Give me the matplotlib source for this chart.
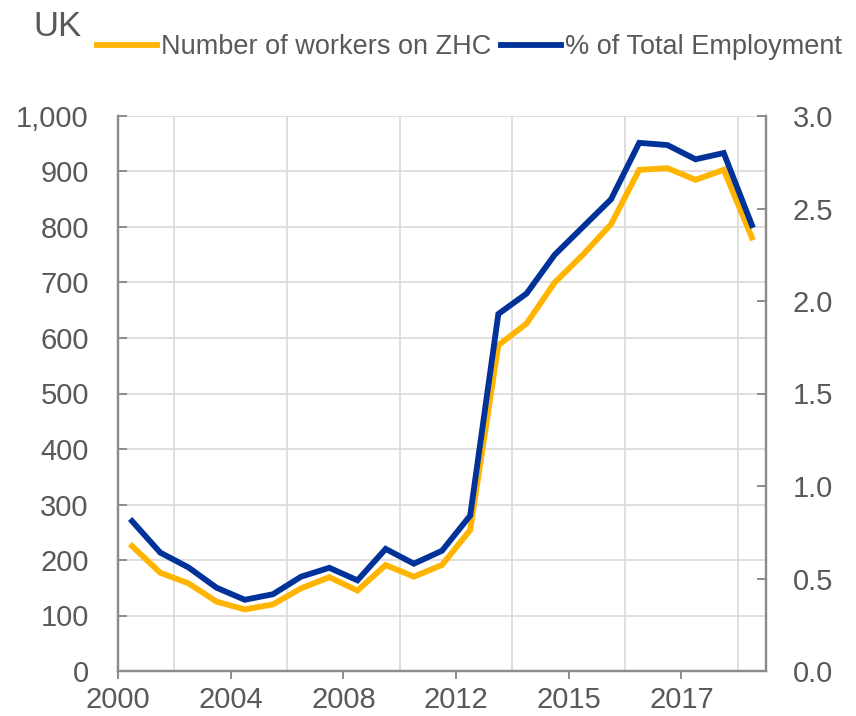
import matplotlib
matplotlib.use("Agg")
import matplotlib.pyplot as plt
from matplotlib.ticker import FuncFormatter, MultipleLocator

plt.rcParams['font.family'] = ['Liberation Sans', 'DejaVu Sans']

# half-yearly observations, 23 points
workers = [225, 177, 158, 125, 111, 120, 149, 169, 145, 191, 170, 191,
           254, 587, 626, 700, 750, 805, 903, 906, 885, 903, 781]
share = [0.81, 0.64, 0.56, 0.45, 0.385, 0.415, 0.51, 0.558, 0.49, 0.66,
         0.58, 0.65, 0.84, 1.93, 2.04, 2.25, 2.40, 2.55, 2.855, 2.843,
         2.766, 2.80, 2.41]
tick_pos = [0, 4, 8, 12, 16, 20]
tick_labels = ['2000', '2004', '2008', '2012', '2015', '2017']

yellow = '#FFB400'
blue = '#003299'
grey = '#595959'
spine_c = '#8c8c8c'

fig = plt.figure(figsize=(8.56, 7.16), dpi=100)
ax = fig.add_axes([118/856, 1 - 671/716, 648/856, 555/716])
ax2 = ax.twinx()

x = [i + 0.5 for i in range(len(workers))]
l1, = ax.plot(x, workers, color=yellow, lw=4.2, solid_joinstyle='miter',
              label='Number of workers on ZHC')
l2, = ax2.plot(x, share, color=blue, lw=4.2, solid_joinstyle='miter',
               label='% of Total Employment')

ax.set_xlim(0, len(workers))
ax.set_ylim(0, 1000)
ax2.set_ylim(0, 3.0)

ax.yaxis.set_major_locator(MultipleLocator(100))
ax.yaxis.set_major_formatter(FuncFormatter(lambda v, p: f'{v:,.0f}'))
ax2.yaxis.set_major_locator(MultipleLocator(0.5))
ax2.yaxis.set_major_formatter(FuncFormatter(lambda v, p: f'{v:.1f}'))

ax.set_xticks(tick_pos)
ax.set_xticklabels(tick_labels)
ax.set_xticks(range(0, len(workers), 2), minor=True)

ax.grid(True, axis='y', color='#d9d9d9', lw=1.2)
ax.grid(True, axis='x', which='minor', color='#d9d9d9', lw=1.2)
ax.set_axisbelow(True)

for a in (ax, ax2):
    a.spines['top'].set_visible(False)
    for s in ('left', 'right', 'bottom'):
        a.spines[s].set_color(spine_c)
        a.spines[s].set_linewidth(1.6)

ax.tick_params(axis='y', direction='in', length=6.5, width=1.4, color=spine_c,
               labelsize=21, labelcolor=grey, pad=21)
ax2.tick_params(axis='y', direction='in', length=6.5, width=1.4, color=spine_c,
                labelsize=21, labelcolor=grey, pad=19)
ax.tick_params(axis='x', which='major', direction='out', length=6, width=1.4,
               color=spine_c, labelsize=21, labelcolor=grey, pad=5)
ax.tick_params(axis='x', which='minor', length=0)

fig.text(33/856, 1 - 26/716, 'UK', fontsize=25, color=grey, va='center', ha='left')
fig.legend(handles=[l1, l2], loc='center left', bbox_to_anchor=(97/856, 1 - 47/716),
           ncol=2, frameon=False, fontsize=19.5, handlelength=2.2, handletextpad=0.15,
           columnspacing=0.37, borderpad=0, borderaxespad=0, labelcolor=grey)

fig.savefig('out.png', dpi=100)
